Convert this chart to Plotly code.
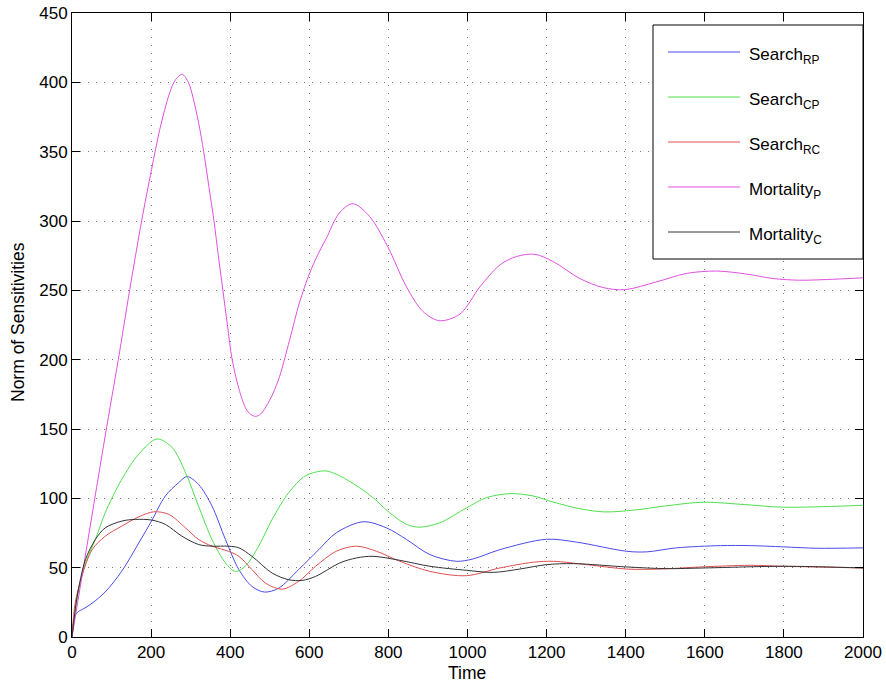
import plotly.graph_objects as go

# ---------------- data ----------------
t_search_rp = [0, 6, 13, 30, 51, 84, 126, 169, 201, 236, 270, 291, 320, 354, 388, 422, 455, 487, 523, 573,
               624, 668, 736, 795, 846, 905, 972, 1014, 1082, 1200, 1276, 1403, 1453, 1529, 1639, 1715, 1799,
               1884, 2000]
v_search_rp = [0, 14, 17.6, 20.5, 24.4, 32.5, 47.5, 67.9, 83.6, 101.7, 111.4, 115.7, 110, 94.4, 70.3, 48.6,
               36.5, 32.4, 35.3, 48.6, 63, 75.1, 83.1, 78.7, 70.3, 59.4, 54.6, 56.3, 63, 70.5, 68.4, 61.8,
               61.4, 64.3, 65.9, 65.9, 65, 64, 64.3]

t_search_cp = [0, 17, 34, 59, 84, 126, 169, 215, 253, 287, 320, 354, 388, 413, 438, 472, 506, 548, 590, 640,
               677, 727, 761, 803, 846, 879, 930, 998, 1048, 1110, 1166, 1217, 1284, 1347, 1420, 1500, 1596,
               1700, 1798, 1900, 2000]
v_search_cp = [0, 34, 53.4, 70.3, 89.6, 113.8, 131.9, 142.8, 136.7, 118.6, 94.4, 70.3, 53.4, 47.3, 51, 65.5,
               84.8, 104.1, 116.2, 119.8, 116.2, 107.7, 100.5, 89.6, 81.2, 79.2, 82.4, 93.2, 100.5, 103.4,
               101.7, 97.3, 92.5, 90.2, 91.5, 94.5, 97.2, 95.5, 93.6, 94, 95]

t_search_rc = [0, 8, 25, 51, 84, 126, 169, 207, 245, 287, 320, 354, 396, 422, 455, 489, 531, 573, 616, 668,
               719, 770, 829, 905, 997, 1082, 1166, 1217, 1301, 1403, 1487, 1588, 1715, 1799, 2000]
v_search_rc = [0, 24.4, 43.7, 63, 72.7, 80, 86.7, 90.3, 88.4, 78.7, 70.3, 65.5, 61.8, 58.2, 48.6, 38.9, 34.5,
               40.1, 51, 61.8, 65.5, 61.8, 54.6, 47.3, 44.2, 49.8, 53.9, 54.6, 52.2, 49, 49, 50.5, 51.7, 51,
               49.8]

t_mortality_p = [0, 83, 117, 146, 176, 201, 222, 247, 262, 279, 295, 306, 320, 333, 346, 359, 370, 381.5, 393,
                 405, 424, 440, 452, 464, 477, 491, 508, 525, 550, 575, 601, 622, 643, 676, 710, 752, 798, 845,
                 887, 929, 981, 1031, 1082, 1124, 1170, 1217, 1284, 1343, 1398, 1478, 1554, 1630, 1706, 1773,
                 1840, 1908, 2000]
v_mortality_p = [0, 143.5, 200, 250.5, 300, 337, 366, 392.5, 402, 405.8, 399.5, 389, 371, 350, 325, 300, 275,
                 250, 225, 200, 177, 164.5, 160.5, 159.1, 160.8, 166.3, 175.5, 188, 214, 241, 262.5, 276,
                 287.5, 305.8, 312.5, 303.4, 281.7, 252.9, 234.9, 228.1, 232.9, 252.4, 268.3, 274.4, 276,
                 270.7, 258.5, 252, 250.5, 256.1, 262.2, 263.9, 261.7, 258.5, 257.3, 257.8, 259]

t_mortality_c = [0, 13, 34, 59, 84, 126, 160, 202, 236, 278, 320, 354, 396, 422, 455, 506, 548, 582, 616, 677,
                 719, 761, 829, 905, 997, 1065, 1132, 1200, 1268, 1403, 1504, 1601, 1799, 2000]
v_mortality_c = [0, 29.2, 55.8, 70.3, 78.7, 83.6, 84.8, 84.3, 81.2, 72.7, 66.7, 65.5, 65.5, 64.3, 58.2, 46.1,
                 41.3, 40.8, 43.7, 53.4, 57, 58.2, 55.3, 51, 48.1, 46.6, 49, 52.2, 52.9, 50.5, 49.3, 49.8,
                 51, 49.8]

series_names = ["Search<sub>RP</sub>", "Search<sub>CP</sub>", "Search<sub>RC</sub>",
                "Mortality<sub>P</sub>", "Mortality<sub>C</sub>"]
series_colors = ["#4b4bea", "#4fe04f", "#e05050", "#e050e0", "#333333"]
series_t = [t_search_rp, t_search_cp, t_search_rc, t_mortality_p, t_mortality_c]
series_v = [v_search_rp, v_search_cp, v_search_rc, v_mortality_p, v_mortality_c]

x_ticks = list(range(0, 2001, 200))
y_ticks = list(range(0, 451, 50))

FONT = "Liberation Sans, Arial, Helvetica, sans-serif"

# ---------------- figure ----------------
W, H = 886, 687
L, R, T, B = 72, 863, 13, 637

fig = go.Figure()
for name, col, tt, vv in zip(series_names, series_colors, series_t, series_v):
    fig.add_trace(go.Scatter(x=tt, y=vv, mode="lines", name=name,
                             line=dict(color=col, width=1, shape="spline", smoothing=0.9),
                             showlegend=False, hoverinfo="skip"))

def px_x(p):
    return (p - L) / (R - L)

def px_y(p):
    return (B - p) / (B - T)

shapes = []
annotations = []
# legend box
shapes.append(dict(type="rect", xref="paper", yref="paper", layer="above",
                   x0=px_x(653), x1=px_x(863), y0=px_y(259), y1=px_y(25),
                   line=dict(color="black", width=1), fillcolor="white"))
row_y = [52, 97, 142, 187, 232]
for name, col, ry in zip(series_names, series_colors, row_y):
    shapes.append(dict(type="line", xref="paper", yref="paper", layer="above",
                       x0=px_x(668), x1=px_x(740), y0=px_y(ry), y1=px_y(ry),
                       line=dict(color=col, width=1)))
    annotations.append(dict(xref="paper", yref="paper", x=px_x(747), y=px_y(ry + 4),
                            xanchor="left", yanchor="middle", showarrow=False,
                            text=name, font=dict(family=FONT, size=17, color="black")))

# axis titles
annotations.append(dict(xref="paper", yref="paper", x=px_x(467), y=px_y(673),
                        xanchor="center", yanchor="middle", showarrow=False,
                        text="Time", font=dict(family=FONT, size=17.5, color="black")))
annotations.append(dict(xref="paper", yref="paper", x=px_x(18), y=px_y(322),
                        xanchor="center", yanchor="middle", showarrow=False, textangle=-90,
                        text="Norm of Sensitivities", font=dict(family=FONT, size=17.5, color="black")))

axis_common = dict(showline=True, linecolor="black", linewidth=1, mirror="ticks",
                   ticks="inside", ticklen=8, tickcolor="black", tickwidth=1,
                   showgrid=True, gridcolor="#777777", gridwidth=1, griddash="1px,7px",
                   zeroline=False, tickfont=dict(family=FONT, size=17, color="black"))

fig.update_xaxes(range=[0, 2000], tickvals=x_ticks, ticktext=[str(v) for v in x_ticks], **axis_common)
fig.update_yaxes(range=[0, 450], tickvals=y_ticks, ticktext=[str(v) for v in y_ticks], **axis_common)

fig.update_layout(width=W, height=H, margin=dict(l=L, r=W - R, t=T, b=H - B, autoexpand=False),
                  paper_bgcolor="white", plot_bgcolor="white",
                  shapes=shapes, annotations=annotations, showlegend=False,
                  font=dict(family=FONT, color="black"))

fig.write_html("out.html", config={"displayModeBar": False},
               post_script="document.body.style.margin='0';document.body.style.overflow='hidden';")
